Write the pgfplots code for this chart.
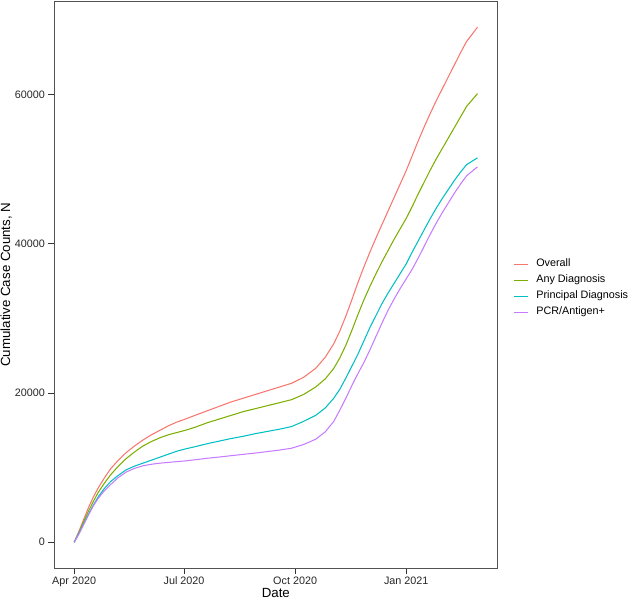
\documentclass[border=0pt]{standalone}
\usepackage{pgfplots}
\usepackage{pgfplotstable}
\pgfplotsset{compat=1.18}
\usepackage{fontspec}
\setmainfont{Liberation Sans}
\definecolor{cOverall}{HTML}{F8766D}
\definecolor{cAny}{HTML}{7CAE00}
\definecolor{cPrin}{HTML}{00BFC4}
\definecolor{cPCR}{HTML}{C77CFF}
\definecolor{axgrey}{HTML}{333333}

% day = days since 2020-04-01
\pgfplotstableread{
day overall any principal pcr
0   0     0     0     0
4   1500  1300  1200  1100
8   3100  2800  2500  2400
12  4700  4200  3800  3700
16  6100  5500  5000  4900
20  7300  6700  6100  5900
25  8600  7900  7200  6900
30  9800  9000  8100  7700
36  10900 10100 8900  8600
43  12000 11200 9700  9400
50  12900 12100 10200 9900
57  13700 12900 10600 10250
64  14400 13500 11000 10450
71  15000 14000 11400 10600
78  15600 14400 11800 10700
85  16100 14700 12200 10800
92  16500 15000 12500 10900
100 17000 15400 12800 11050
110 17600 16000 13200 11250
120 18200 16500 13550 11420
130 18800 17000 13900 11600
140 19300 17500 14200 11780
150 19800 17900 14550 11950
160 20300 18300 14850 12150
170 20800 18700 15150 12350
180 21300 19100 15500 12600
190 22100 19800 16200 13100
200 23300 20800 17000 13800
208 24800 21900 18000 14800
215 26600 23300 19300 16200
220 28300 24700 20500 17700
225 30300 26400 22000 19300
230 32500 28400 23600 21000
235 34800 30500 25200 22600
240 36900 32500 27000 24100
245 38900 34300 28800 25800
250 40800 36000 30400 27600
255 42600 37600 32000 29400
260 44400 39100 33400 31100
265 46200 40600 34700 32600
270 48000 42000 36000 34000
275 49800 43400 37300 35300
280 51800 45000 38900 36600
285 53800 46700 40400 38100
290 55700 48300 41900 39700
295 57500 49900 43400 41300
300 59200 51400 44800 42800
305 60800 52800 46100 44200
310 62400 54200 47300 45500
315 64000 55600 48500 46800
320 65600 57000 49600 48000
325 67100 58400 50600 49100
334 69000 60100 51500 50300
}\datatable

\begin{document}
\begin{tikzpicture}
\begin{axis}[
  name=ax,
  scale only axis,
  width=443.8bp, height=566.7bp,
  xmin=-16.7, xmax=350.7,
  ymin=-3450, ymax=72450,
  xtick={0,91,183,275},
  xticklabels={Apr 2020,Jul 2020,Oct 2020,Jan 2021},
  ytick={0,20000,40000,60000},
  yticklabels={0,20000,40000,60000},
  scaled x ticks=false, scaled y ticks=false,
  /pgf/number format/assume math mode=true,
  xtick pos=lower, ytick pos=left,
  tick align=outside,
  major tick length=5.5bp,
  tick style={axgrey, line width=0.9bp},
  axis line style={draw=axgrey!85, line width=0.9bp},
  tick label style={font=\fontsize{10.8bp}{12bp}\selectfont, text=black!85},
  xlabel={Date},
  xlabel style={font=\fontsize{13.3bp}{15bp}\selectfont, at={(axis description cs:0.5,-0.0526)}, anchor=base, inner sep=0pt},
  ylabel={Cumulative Case Counts, N},
  ylabel style={font=\fontsize{13.3bp}{15bp}\selectfont, at={(axis description cs:-0.1212,0.5)}, anchor=north, inner sep=0pt},
  legend cell align=left,
  legend style={
    at={(axis description cs:1.0347,0.4936)}, anchor=west,
    draw=none, fill=none, inner sep=0pt,
    column sep=5bp,
    font=\fontsize{10.8bp}{12bp}\selectfont,
    nodes={text height=0.75em, text depth=0.25em, inner sep=3bp},
  },
  legend image code/.code={\draw[#1, line width=1.1bp] (0bp,0bp) -- (14bp,0bp);},
  every axis plot/.append style={line width=1.05bp, no marks},
]
\addplot[cOverall] table[x=day, y=overall] {\datatable};
\addlegendentry{Overall}
\addplot[cAny] table[x=day, y=any] {\datatable};
\addlegendentry{Any Diagnosis}
\addplot[cPrin] table[x=day, y=principal] {\datatable};
\addlegendentry{Principal Diagnosis}
\addplot[cPCR] table[x=day, y=pcr] {\datatable};
\addlegendentry{PCR/Antigen+}
\end{axis}
\pgfresetboundingbox
\path ([shift={(-54bp,-31.3bp)}]ax.south west) rectangle ([shift={(130.4bp,1.5bp)}]ax.north east);
\end{tikzpicture}
\end{document}
